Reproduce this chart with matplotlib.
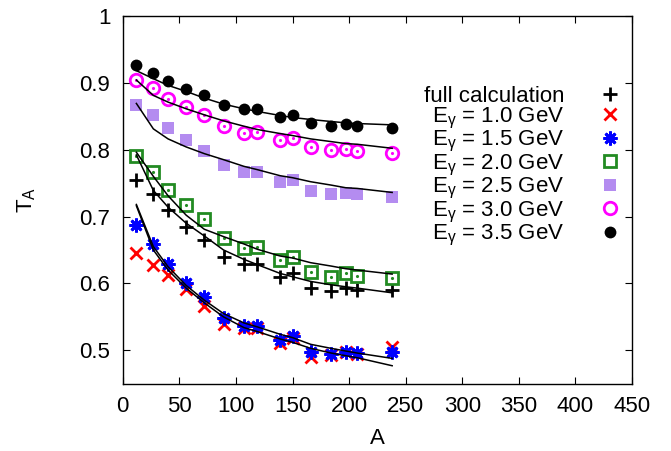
import matplotlib
matplotlib.use("Agg")
import matplotlib.pyplot as plt
from matplotlib.ticker import FuncFormatter, MultipleLocator

plt.rcParams["font.family"] = ["Liberation Sans", "DejaVu Sans"]
plt.rcParams["mathtext.default"] = "regular"

# mass numbers of the nuclei
mass_a = [12, 27, 40, 56, 72, 89, 107, 119, 139, 150, 166, 184, 197, 207, 238]

# full calculation
full_calc = [0.755, 0.733, 0.709, 0.685, 0.665, 0.639, 0.629, 0.629, 0.610,
             0.615, 0.593, 0.589, 0.593, 0.590, 0.590]

# points for each photon energy
t_e10 = [0.646, 0.627, 0.613, 0.591, 0.567, 0.539, 0.534, 0.534, 0.511,
         0.519, 0.490, 0.493, 0.498, 0.495, 0.505]
t_e15 = [0.687, 0.659, 0.629, 0.601, 0.579, 0.548, 0.536, 0.537, 0.515,
         0.522, 0.497, 0.495, 0.498, 0.496, 0.497]
t_e20 = [0.791, 0.766, 0.740, 0.717, 0.697, 0.668, 0.653, 0.655, 0.635,
         0.640, 0.617, 0.610, 0.615, 0.611, 0.608]
t_e25 = [0.867, 0.851, 0.832, 0.815, 0.798, 0.777, 0.767, 0.767, 0.752,
         0.755, 0.738, 0.733, 0.735, 0.733, 0.729]
t_e30 = [0.904, 0.892, 0.876, 0.863, 0.851, 0.835, 0.825, 0.827, 0.815,
         0.817, 0.804, 0.799, 0.801, 0.798, 0.795]
t_e35 = [0.926, 0.915, 0.902, 0.890, 0.881, 0.867, 0.860, 0.860, 0.849,
         0.851, 0.840, 0.836, 0.838, 0.835, 0.833]

# approximate curves (solid lines)
curve_e10 = [0.716, 0.650, 0.620, 0.593, 0.571, 0.550, 0.534, 0.528, 0.517,
             0.512, 0.503, 0.496, 0.492, 0.489, 0.477]
curve_e15 = [0.718, 0.655, 0.625, 0.597, 0.575, 0.555, 0.541, 0.535, 0.524,
             0.519, 0.509, 0.503, 0.499, 0.496, 0.488]
curve_full = [0.792, 0.739, 0.714, 0.690, 0.671, 0.650, 0.636, 0.628, 0.615,
              0.610, 0.603, 0.598, 0.595, 0.593, 0.586]
curve_e20 = [0.796, 0.760, 0.731, 0.702, 0.681, 0.670, 0.659, 0.651, 0.641,
             0.638, 0.631, 0.626, 0.622, 0.620, 0.614]
curve_e25 = [0.869, 0.831, 0.816, 0.804, 0.794, 0.785, 0.775, 0.770, 0.761,
             0.758, 0.752, 0.747, 0.743, 0.742, 0.736]
curve_e30 = [0.904, 0.881, 0.871, 0.861, 0.852, 0.843, 0.835, 0.830, 0.824,
             0.821, 0.816, 0.812, 0.809, 0.808, 0.802]
curve_e35 = [0.918, 0.906, 0.896, 0.887, 0.877, 0.868, 0.861, 0.857, 0.851,
             0.848, 0.845, 0.842, 0.840, 0.839, 0.837]

labels = ["full calculation"] + [r"E$_{γ}$ = %s GeV" % e for e in
                                 ["1.0", "1.5", "2.0", "2.5", "3.0", "3.5"]]

FS = 16

fig = plt.figure(figsize=(6.71, 4.51), dpi=100)
ax = fig.add_axes([0.183, 0.149, 0.759, 0.816])

handles = []
h, = ax.plot(mass_a, full_calc, ls="none", marker="+", ms=10, mew=2,
             color="black")
handles.append(h)
h, = ax.plot(mass_a, t_e10, ls="none", marker="x", ms=8.5, mew=2,
             color="#ff0000")
handles.append(h)
h, = ax.plot(mass_a, t_e15, ls="none", marker=(8, 2, 0), ms=10, mew=2,
             color="#0000ff")
handles.append(h)
h, = ax.plot(mass_a, t_e20, ls="none", marker="s", ms=8, mew=2,
             mfc="white", mec="#228b22")
ax.plot(mass_a, t_e20, ls="none", marker=".", ms=2.5, color="#228b22")
handles.append(h)
h, = ax.plot(mass_a, t_e25, ls="none", marker="s", ms=8.5, mew=0,
             color="#b48cf0")
handles.append(h)
h, = ax.plot(mass_a, t_e30, ls="none", marker="o", ms=9, mew=2,
             mfc="white", mec="#ff00ff")
ax.plot(mass_a, t_e30, ls="none", marker=".", ms=2.5, color="#ff00ff")
handles.append(h)
h, = ax.plot(mass_a, t_e35, ls="none", marker="o", ms=8.5, mew=0,
             color="black")
handles.append(h)

for c in [curve_e10, curve_e15, curve_full, curve_e20, curve_e25,
          curve_e30, curve_e35]:
    ax.plot(mass_a, c, color="black", lw=1.1, zorder=3)

ax.set_xlim(0, 450)
ax.set_ylim(0.45, 1.0)
ax.xaxis.set_major_locator(MultipleLocator(50))
ax.yaxis.set_major_locator(MultipleLocator(0.1))
ax.yaxis.set_major_formatter(FuncFormatter(lambda v, p: "%g" % round(v, 2)))
ax.tick_params(direction="in", top=True, right=True, length=5, width=0.8,
               labelsize=FS, pad=9)
for spine in ax.spines.values():
    spine.set_linewidth(1.0)

ax.set_xlabel("A", fontsize=FS, labelpad=8)
ax.set_ylabel("T$_A$", fontsize=FS, labelpad=30, rotation=90)

leg = ax.legend(handles, labels, loc="upper right", markerfirst=False,
                frameon=False, fontsize=FS, handlelength=2.0,
                handletextpad=1.05, labelspacing=-0.07, borderpad=0,
                borderaxespad=0, bbox_to_anchor=(1.0, 0.809))

fig.savefig("out.png", dpi=100)
